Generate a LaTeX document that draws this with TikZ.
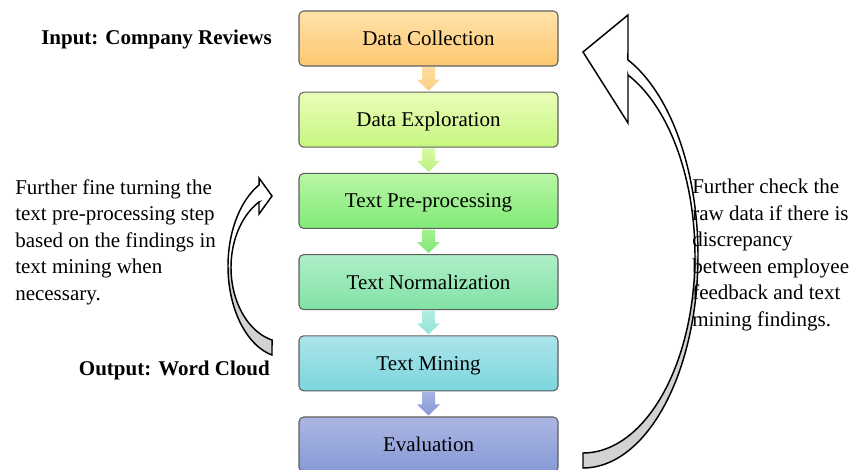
\documentclass[tikz,border=0pt]{standalone}
\usepackage{fontspec}
\setmainfont{Liberation Serif}
\usetikzlibrary{calc}
\definecolor{bdr}{HTML}{5E5E5E}
\definecolor{c1t}{RGB}{255,226,170}\definecolor{c1b}{RGB}{253,200,112}
\definecolor{c2t}{RGB}{234,253,185}\definecolor{c2b}{RGB}{198,246,128}
\definecolor{c3t}{RGB}{185,246,165}\definecolor{c3b}{RGB}{128,234,118}
\definecolor{c4t}{RGB}{175,238,200}\definecolor{c4b}{RGB}{128,226,165}
\definecolor{c5t}{RGB}{172,228,234}\definecolor{c5b}{RGB}{124,214,222}
\definecolor{c6t}{RGB}{172,182,226}\definecolor{c6b}{RGB}{134,154,214}
\definecolor{a1t}{RGB}{254,222,160}\definecolor{a1b}{RGB}{252,206,134}
\definecolor{a2t}{RGB}{218,250,165}\definecolor{a2b}{RGB}{186,240,128}
\definecolor{a3t}{RGB}{165,240,145}\definecolor{a3b}{RGB}{128,230,120}
\definecolor{a4t}{RGB}{178,238,226}\definecolor{a4b}{RGB}{145,228,214}
\definecolor{a5t}{RGB}{170,180,228}\definecolor{a5b}{RGB}{136,152,212}
\definecolor{backgrey}{RGB}{210,210,210}
\newcommand{\blkarrow}[4]{%
  \shade[top color=#3, bottom color=#4]
    ($(#1.south)+(-6.5,0.6)$) -- ($(#1.south)+(6.5,0.6)$) --
    ($(#2.north)+(6.5,-12)$) -- ($(#2.north)+(11.5,-12)$) --
    ($(#2.north)+(0,-1)$) -- ($(#2.north)+(-11.5,-12)$) --
    ($(#2.north)+(-6.5,-12)$) -- cycle;}
\begin{document}
\begin{tikzpicture}[x=0.75pt,y=-0.75pt,
  font=\fontsize{15.75}{19.1}\selectfont,
  stagebox/.style={draw=bdr, line width=0.8pt, rounded corners=3.5pt,
    minimum width=194.25pt, minimum height=41.25pt, inner sep=0pt,
    text height=10.6pt, text depth=0pt},
  curvearrow/.style={draw=black, line width=1.1pt, line join=miter},
  para/.style={align=left, inner sep=0pt, anchor=north west,
    font=\fontsize{15.75}{19.9}\selectfont},
  label/.style={inner sep=0pt, anchor=base east,
    font=\fontsize{15.75}{19.1}\selectfont\bfseries}]
\useasboundingbox (0,0) rectangle (853,470);
\clip (0,0) rectangle (853,470);

% stage boxes
\node[stagebox, top color=c1t, bottom color=c1b] (dc) at (428.5,38.5) {Data Collection};
\node[stagebox, top color=c2t, bottom color=c2b] (de) at (428.5,119.7) {Data Exploration};
\node[stagebox, top color=c3t, bottom color=c3b] (tp) at (428.5,200.9) {Text Pre-processing};
\node[stagebox, top color=c4t, bottom color=c4b] (tn) at (428.5,282.1) {Text Normalization};
\node[stagebox, top color=c5t, bottom color=c5b] (tm) at (428.5,363.3) {Text Mining};
\node[stagebox, top color=c6t, bottom color=c6b] (ev) at (428.5,444.5) {Evaluation};

% block arrows between stages
\blkarrow{dc}{de}{a1t}{a1b}
\blkarrow{de}{tp}{a2t}{a2b}
\blkarrow{tp}{tn}{a3t}{a3b}
\blkarrow{tn}{tm}{a4t}{a4b}
\blkarrow{tm}{ev}{a5t}{a5b}

% left curved arrow (front face, back face, outline)
\fill[white] plot[domain=180:242.9, samples=40] ({285+57*cos(\x)},{266.2+91.2*sin(\x)})
  -- (259,178) -- (272,196) -- (259,214) -- (259,202)
  -- plot[domain=241.3:180, samples=40] ({285+54*cos(\x)},{267.5+74.7*sin(\x)}) -- cycle;
\fill[backgrey] plot[domain=180:103.2, samples=40] ({285+57*cos(\x)},{266.2+91.2*sin(\x)})
  -- plot[domain=103.9:180, samples=40] ({285+54*cos(\x)},{267.5+74.7*sin(\x)}) -- cycle;
\draw[curvearrow] plot[domain=103.2:242.9, samples=80] ({285+57*cos(\x)},{266.2+91.2*sin(\x)})
  -- (259,178) -- (272,196) -- (259,214) -- (259,202)
  -- plot[domain=241.3:103.9, samples=80] ({285+54*cos(\x)},{267.5+74.7*sin(\x)}) -- cycle;

% right curved arrow
\fill[white] plot[domain=0:-66.98, samples=40] ({583+115*cos(\x)},{255.5+212.5*sin(\x)})
  -- (628,15) -- (583,52) -- (628,123) -- (628,75)
  -- plot[domain=-66.3:0, samples=40] ({583+112*cos(\x)},{255.7+197.3*sin(\x)}) -- cycle;
\fill[backgrey] plot[domain=0:90, samples=40] ({583+115*cos(\x)},{255.5+212.5*sin(\x)})
  -- plot[domain=90:0, samples=40] ({583+112*cos(\x)},{255.7+197.3*sin(\x)}) -- cycle;
\draw[curvearrow] plot[domain=90:-66.98, samples=100] ({583+115*cos(\x)},{255.5+212.5*sin(\x)})
  -- (628,15) -- (583,52) -- (628,123) -- (628,75)
  -- plot[domain=-66.3:90, samples=100] ({583+112*cos(\x)},{255.7+197.3*sin(\x)}) -- cycle;

% labels
\node[label] (inp) at (272,45) {Input: Company Reviews};
\node[label] (outp) at (270,375) {Output: Word Cloud};
\node[para] (lnote) at (15,179) {Further fine turning the\\text pre-processing step\\based on the findings in\\text mining when\\necessary.};
\node[para] (rnote) at (692,179) {Further check the\\raw data if there is\\discrepancy\\between employee\\feedback and text\\mining findings.};
\end{tikzpicture}
\end{document}
